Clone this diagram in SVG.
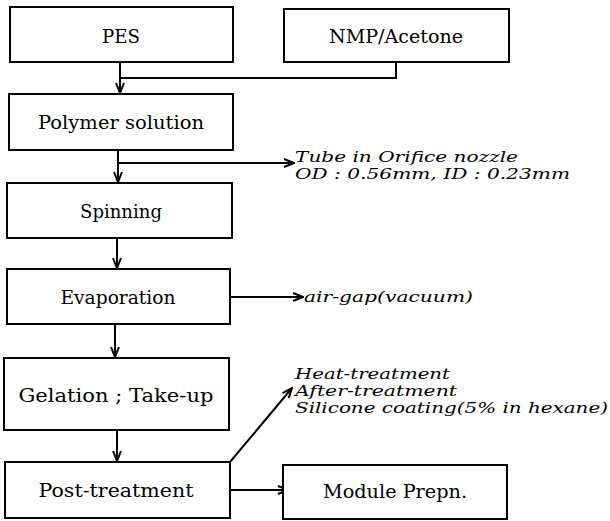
<svg xmlns="http://www.w3.org/2000/svg" width="610" height="521" viewBox="0 0 610 521">
<style>
.box{fill:#fff;stroke:#000;stroke-width:2}
.t{font-family:"DejaVu Serif","Liberation Serif",serif;font-size:19px;fill:#000;text-anchor:middle}
.i{font-family:"DejaVu Serif","Liberation Serif",serif;font-size:14px;font-style:italic;fill:#000}
.c{fill:none;stroke:#000;stroke-width:2}
</style>
<defs>
<marker id="ah" viewBox="0 0 12 10" refX="11" refY="5" markerWidth="12" markerHeight="10" markerUnits="userSpaceOnUse" orient="auto">
<path d="M1,1 L11,5 L1,9" fill="none" stroke="#000" stroke-width="2"/>
</marker>
</defs>
<g id="connectors">
<path class="c" d="M120,62 V78 H396 V62"/>
<path class="c" d="M120,78 V93" marker-end="url(#ah)"/>
<path class="c" d="M118,150 V182" marker-end="url(#ah)"/>
<path class="c" d="M118,163 H294" marker-end="url(#ah)"/>
<path class="c" d="M117,238 V268" marker-end="url(#ah)"/>
<path class="c" d="M230,297 H303" marker-end="url(#ah)"/>
<path class="c" d="M115,324 V357" marker-end="url(#ah)"/>
<path class="c" d="M117,430 V461" marker-end="url(#ah)"/>
<path class="c" d="M230,462 L292,388" marker-end="url(#ah)"/>
<path class="c" d="M230,490 H288" marker-end="url(#ah)"/>
</g>
<g id="pes"><rect class="box" x="10" y="7" width="223" height="55"/><text class="t" x="121" y="43" textLength="38" lengthAdjust="spacingAndGlyphs">PES</text></g>
<g id="nmp"><rect class="box" x="284" y="9" width="225" height="53"/><text class="t" x="396" y="43" textLength="134" lengthAdjust="spacingAndGlyphs">NMP/Acetone</text></g>
<g id="polymer"><rect class="box" x="9" y="94" width="224" height="56"/><text class="t" x="121" y="129" textLength="166" lengthAdjust="spacingAndGlyphs">Polymer solution</text></g>
<g id="spinning"><rect class="box" x="7" y="183" width="225" height="55"/><text class="t" x="121" y="218" textLength="82" lengthAdjust="spacingAndGlyphs">Spinning</text></g>
<g id="evaporation"><rect class="box" x="7" y="269" width="223" height="55"/><text class="t" x="118" y="304" textLength="115" lengthAdjust="spacingAndGlyphs">Evaporation</text></g>
<g id="gelation"><rect class="box" x="4" y="358" width="225" height="72"/><text class="t" x="116" y="402" textLength="195" lengthAdjust="spacingAndGlyphs">Gelation ; Take-up</text></g>
<g id="post"><rect class="box" x="5" y="462" width="225" height="56"/><text class="t" x="116" y="497" textLength="155" lengthAdjust="spacingAndGlyphs">Post-treatment</text></g>
<g id="module"><rect class="box" x="283" y="465" width="224" height="54"/><text class="t" x="395" y="498" textLength="144" lengthAdjust="spacingAndGlyphs">Module Prepn.</text></g>
<g id="labels">
<text class="i" x="295" y="162" textLength="223" lengthAdjust="spacingAndGlyphs">Tube in Orifice nozzle</text>
<text class="i" x="295" y="179" textLength="275" lengthAdjust="spacingAndGlyphs">OD : 0.56mm, ID : 0.23mm</text>
<text class="i" x="304" y="302" textLength="169" lengthAdjust="spacingAndGlyphs">air-gap(vacuum)</text>
<text class="i" x="295" y="379" textLength="155" lengthAdjust="spacingAndGlyphs">Heat-treatment</text>
<text class="i" x="295" y="396" textLength="162" lengthAdjust="spacingAndGlyphs">After-treatment</text>
<text class="i" x="295" y="413" textLength="313" lengthAdjust="spacingAndGlyphs">Silicone coating(5% in hexane)</text>
</g>
</svg>
